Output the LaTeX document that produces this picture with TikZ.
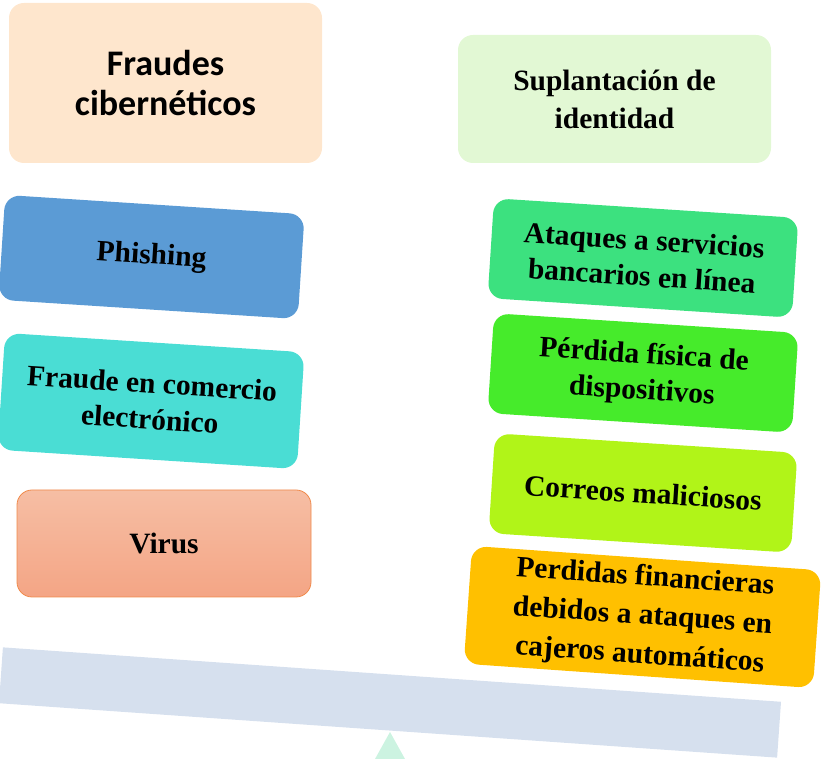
\documentclass[tikz,border=0pt]{standalone}
\usepackage{fontspec}
\setmainfont{Liberation Serif}
\newfontfamily\titlefont{Carlito}
\definecolor{cPeach}{HTML}{FEE6CD}
\definecolor{cMint}{HTML}{E2F8D4}
\definecolor{cBlue}{HTML}{5B9BD5}
\definecolor{cTurq}{HTML}{4ADDD4}
\definecolor{cVirTop}{HTML}{F6BEA4}
\definecolor{cVirBot}{HTML}{F4A585}
\definecolor{cVirLine}{HTML}{F08A4B}
\definecolor{cGreenA}{HTML}{3CE17F}
\definecolor{cGreenB}{HTML}{46EB2B}
\definecolor{cLime}{HTML}{B1F418}
\definecolor{cGold}{HTML}{FFC000}
\definecolor{cBeam}{HTML}{D6E0EE}
\definecolor{cTri}{HTML}{CCF3E1}
\tikzset{
  card/.style={rounded corners=15pt, inner sep=0pt, align=center, text=black,
    font=\bfseries\fontsize{29.5}{36}\selectfont},
  tilted/.style={card, rotate=-3.7},
}
\begin{document}
\begin{tikzpicture}[x=1pt,y=1pt]
\useasboundingbox (0,0) rectangle (821,759);
% beam and fulcrum
\node[fill=cBeam, minimum width=780pt, minimum height=56pt, inner sep=0pt, rotate=-4] (beam) at (390,56.5) {};
\fill[cTri] (375,0) -- (405,0) -- (390,27) -- cycle;
% left column
\node[card, fill=cPeach, minimum width=313pt, minimum height=160pt,
  font=\titlefont\bfseries\fontsize{36}{40}\selectfont] (fraudes) at (165.5,676) {Fraudes\\cibernéticos};
\node[tilted, fill=cBlue, minimum width=300pt, minimum height=105pt] (phishing) at (151.5,502) {Phishing};
\node[tilted, fill=cTurq, minimum width=300pt, minimum height=117pt] (fraude) at (151,358) {Fraude en comercio\\electrónico};
\node[card, top color=cVirTop, bottom color=cVirBot, draw=cVirLine, line width=0.8pt,
  minimum width=294pt, minimum height=107pt] (virus) at (164,215.5) {Virus};
% right column
\node[card, fill=cMint, minimum width=313pt, minimum height=128pt,
  font=\bfseries\fontsize{29.5}{38}\selectfont] (suplant) at (614.5,660) {Suplantación de\\identidad};
\node[tilted, fill=cGreenA, minimum width=305pt, minimum height=100pt] (ataques) at (643,501) {Ataques a servicios\\bancarios en línea};
\node[tilted, fill=cGreenB, minimum width=305pt, minimum height=100pt,
  text depth=4pt] (perdida) at (643,386) {Pérdida física de\\dispositivos};
\node[tilted, fill=cLime, minimum width=303pt, minimum height=100pt] (correos) at (643,266) {Correos maliciosos};
\node[card, rotate=-4, fill=cGold, minimum width=350pt, minimum height=118pt,
  font=\bfseries\fontsize{29.5}{39}\selectfont] (perdidas) at (642.5,142) {Perdidas financieras\\debidos a ataques en\\cajeros automáticos};
\end{tikzpicture}
\end{document}
